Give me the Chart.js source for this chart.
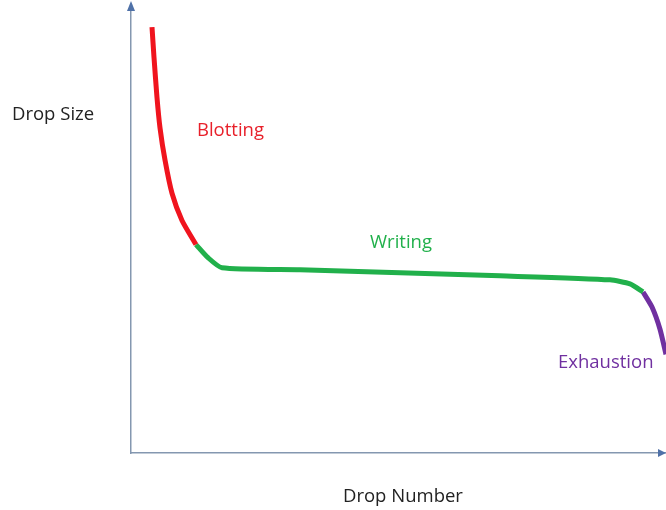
<!DOCTYPE html>
<html>
<head>
<meta charset="utf-8">
<script src="https://cdn.jsdelivr.net/npm/chart.js@4/dist/chart.umd.min.js"></script>
<style>
  html, body { margin: 0; padding: 0; background: #fff; }
  #wrap { position: relative; width: 666px; height: 510px; }
  canvas { position: absolute; left: 0; top: 0; }
  .lbl { position: absolute; font-family: 'Open Sans', sans-serif; font-size: 18.5px; white-space: nowrap; }
</style>
</head>
<body>
<div id="wrap">
  <canvas id="chart" width="666" height="510"></canvas>
  <div class="lbl" style="left:12px;top:100px;color:#222">Drop Size</div>
  <div class="lbl" style="left:343px;top:482px;color:#222">Drop Number</div>
  <div class="lbl" style="left:197px;top:116px;color:#e8202a">Blotting</div>
  <div class="lbl" style="left:370px;top:228px;color:#21b04b">Writing</div>
  <div class="lbl" style="left:558px;top:348px;color:#7030a0">Exhaustion</div>
</div>
<script>
// valores (numero de gota, tamano de gota)
const blottingX = [21, 23, 26, 29, 34, 41, 51, 65];
const blottingY = [423, 393, 353, 323, 291, 258, 231, 207];
const writingX = [65, 77, 91, 169, 269, 369, 479, 499, 512];
const writingY = [207, 194, 184, 182, 179, 176, 172, 168, 160];
const exhaustionX = [512, 521, 529, 535];
const exhaustionY = [160, 145, 123, 98];

const toPoints = (xs, ys) => xs.map((x, i) => ({ x: x, y: ys[i] }));

const axisColor = '#8497b0';

// flechas al final de los ejes
const arrows = {
  id: 'arrows',
  afterDraw(chart) {
    const { ctx, chartArea } = chart;
    ctx.save();
    ctx.fillStyle = '#4f71a8';
    ctx.beginPath();
    ctx.moveTo(chartArea.left, chartArea.top - 4);
    ctx.lineTo(chartArea.left - 4, chartArea.top + 6);
    ctx.lineTo(chartArea.left + 4, chartArea.top + 6);
    ctx.fill();
    ctx.beginPath();
    ctx.moveTo(chartArea.right, chartArea.bottom);
    ctx.lineTo(chartArea.right - 8, chartArea.bottom - 4);
    ctx.lineTo(chartArea.right - 8, chartArea.bottom + 4);
    ctx.fill();
    ctx.restore();
  }
};

new Chart(document.getElementById('chart'), {
  type: 'line',
  data: {
    datasets: [
      { label: 'Blotting', data: toPoints(blottingX, blottingY), borderColor: '#f0141e' },
      { label: 'Writing', data: toPoints(writingX, writingY), borderColor: '#21b04b' },
      { label: 'Exhaustion', data: toPoints(exhaustionX, exhaustionY), borderColor: '#7030a0' }
    ]
  },
  options: {
    responsive: false,
    animation: false,
    clip: false,
    layout: { padding: { left: 123, right: 0, top: 5, bottom: 49 } },
    elements: {
      line: { borderWidth: 5, tension: 0.2, borderCapStyle: 'butt', borderJoinStyle: 'round' },
      point: { radius: 0 }
    },
    plugins: { legend: { display: false }, tooltip: { enabled: false } },
    scales: {
      x: {
        type: 'linear', min: 0, max: 535,
        grid: { display: false },
        border: { display: true, color: axisColor, width: 1.5 },
        ticks: { display: false }
      },
      y: {
        type: 'linear', min: 0, max: 445,
        grid: { display: false },
        border: { display: true, color: axisColor, width: 1.5 },
        ticks: { display: false }
      }
    }
  },
  plugins: [arrows]
});
</script>
</body>
</html>
